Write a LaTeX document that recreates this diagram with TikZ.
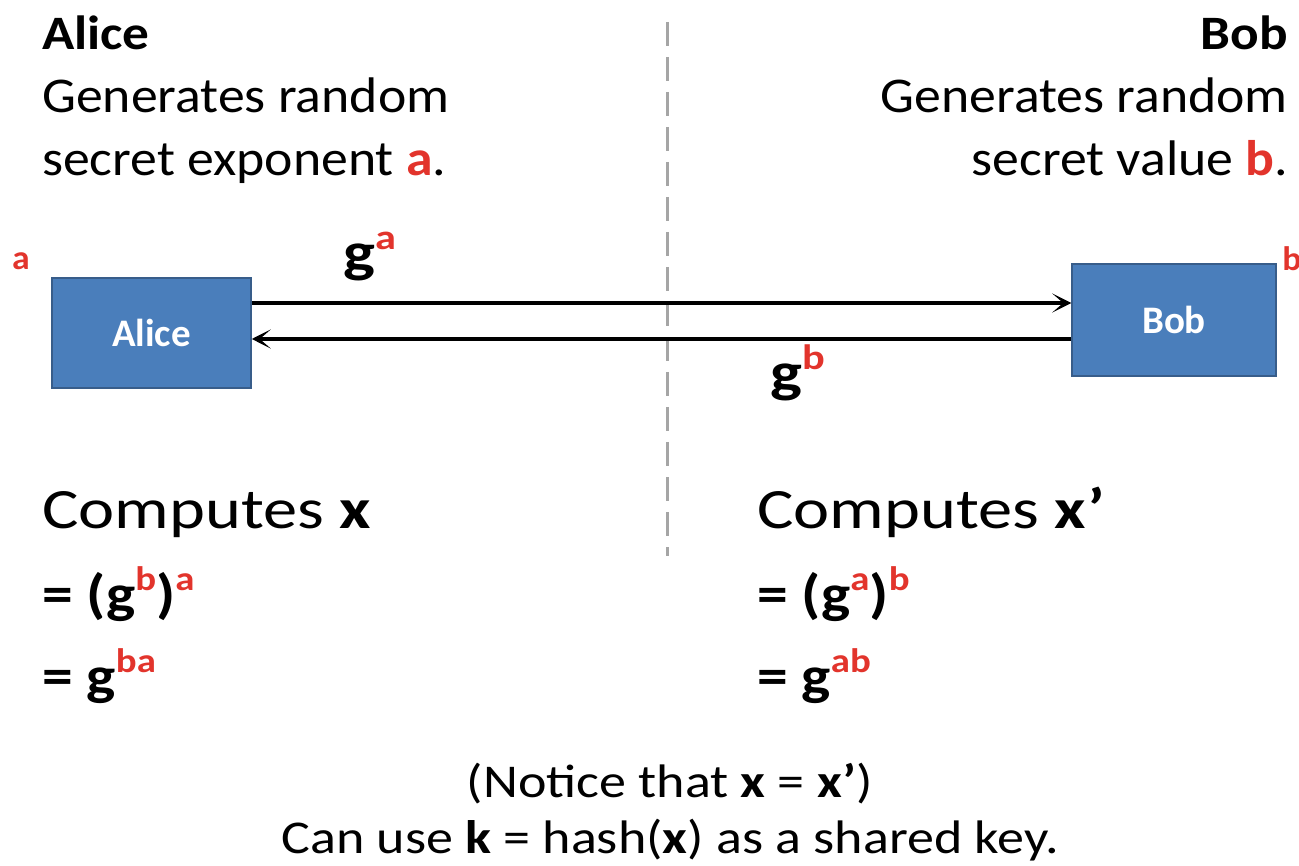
\documentclass[tikz,border=0pt]{standalone}
\usepackage{fontspec}
\setmainfont{Carlito}
\usetikzlibrary{arrows.meta}
\definecolor{myred}{RGB}{226,52,44}
\definecolor{boxblue}{RGB}{74,126,187}
\definecolor{boxedge}{RGB}{56,93,138}
\definecolor{dashgray}{RGB}{165,165,165}
\newcommand\hi[1]{\raisebox{0.4em}{\scalebox{0.63}{\textcolor{myred}{\bfseries #1}}}}
\newcommand\fsz[3]{\fontsize{#1}{#2}\selectfont\addfontfeature{FakeStretch=#3}}
\tikzset{
  txt/.style={inner sep=0pt, font=\fsz{50}{60}{1.075}},
  head/.style={inner sep=0pt, font=\fsz{48}{60}{1.11}\bfseries},
  big/.style={inner sep=0pt, font=\fsz{57}{66}{1.2}},
  frm/.style={inner sep=0pt, font=\fsz{54}{64}{1.14}\bfseries},
  lbl/.style={inner sep=0pt, font=\fsz{56}{64}{1.2}\bfseries},
  note/.style={inner sep=0pt, font=\fsz{47}{56}{1.15}},
  tag/.style={inner sep=0pt, font=\fsz{34}{34}{1.05}\bfseries, text=myred},
  party/.style={draw=boxedge, line width=1.5pt, fill=boxblue, text=white, inner sep=0pt, font=\fsz{39}{44}{1.0}\bfseries},
  msg/.style={line width=3.6pt, -{Stealth[length=19pt,width=19pt,inset=11pt]}},
}
\begin{document}
\begin{tikzpicture}[x=1pt,y=-1pt]
\useasboundingbox (0,0) rectangle (1299,866);
% divider
\coordinate (dtop) at (667,22);
\coordinate (dbot) at (667,556);
\draw[dashgray, line width=3pt, dash pattern=on 24pt off 11pt] (dtop) -- (dbot);
% headers
\node[head, anchor=base west] (ah) at (42,50) {Alice};
\node[txt, anchor=base west] (a1) at (42,113) {Generates random};
\node[txt, anchor=base west] (a2) at (42,176) {secret exponent \textcolor{myred}{\bfseries a}.};
\node[head, anchor=base east] (bh) at (1288,50) {Bob};
\node[txt, anchor=base east] (b1) at (1288,113) {Generates random};
\node[txt, anchor=base east] (b2) at (1288,176) {secret value \textcolor{myred}{\bfseries b}.};
% boxes
\node[party, minimum width=199pt, minimum height=110pt] (alice) at (151.5,333) {Alice};
\node[party, minimum width=204pt, minimum height=112pt] (bob) at (1174,320) {Bob};
\node[tag, anchor=base] (ra) at (21,270) {a};
\node[tag, anchor=base] (rb) at (1292,271) {b};
% messages
\draw[msg] (alice.east |- 0,303) -- (bob.west |- 0,303);
\draw[msg] (bob.west |- 0,339) -- (alice.east |- 0,339);
\node[lbl, anchor=base west] (ga) at (343,272) {g\hi{a}};
\node[lbl, anchor=base west] (gb) at (770,392) {g\hi{b}};
% computations
\node[big, anchor=base west] (ac) at (42,528) {Computes \textbf{x}};
\node[frm, anchor=base west] (af1) at (42,612) {= (g\hi{b})\hi{a}};
\node[frm, anchor=base west] (af2) at (42,694) {= g\hi{ba}};
\node[big, anchor=base west] (bc) at (757,528) {Computes \textbf{x’}};
\node[frm, anchor=base west] (bf1) at (757,612) {= (g\hi{a})\hi{b}};
\node[frm, anchor=base west] (bf2) at (757,694) {= g\hi{ab}};
% note
\node[note, anchor=base] (n1) at (670,797) {(Notice that \textbf{x} = \textbf{x’})};
\node[note, anchor=base] (n2) at (670,853) {Can use \textbf{k} = hash(\textbf{x}) as a shared key.};
\end{tikzpicture}
\end{document}
